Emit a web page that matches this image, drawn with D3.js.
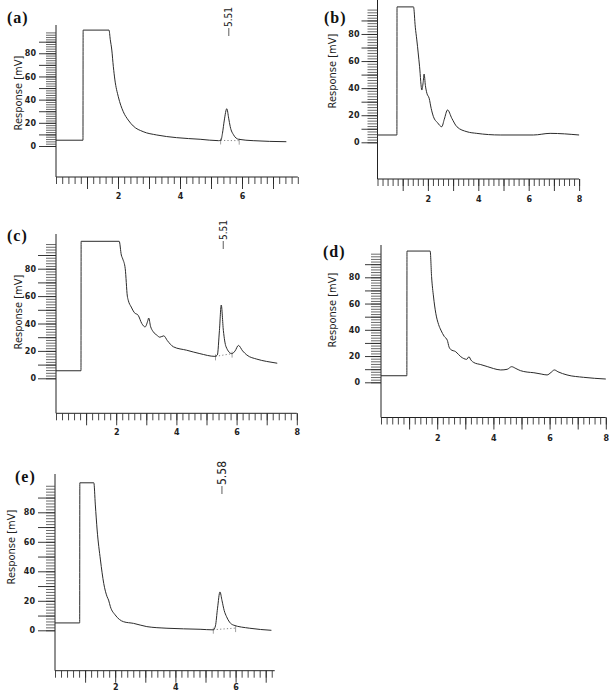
<!DOCTYPE html>
<html><head><meta charset="utf-8">
<script src="https://cdn.jsdelivr.net/npm/d3@7"></script>
<style>
body{margin:0;background:#fff;}
svg{display:block;}
.ticklab text{font-family:"DejaVu Sans",sans-serif;font-weight:bold;font-size:8px;fill:#222;}
.resp{font-family:"Liberation Sans Narrow","DejaVu Sans Condensed",sans-serif;font-size:11px;fill:#222;}
.plab{font-family:"Liberation Serif","Times New Roman",serif;font-weight:bold;font-size:16px;letter-spacing:1px;fill:#111;}
.peak{font-family:"Liberation Sans Narrow","DejaVu Sans Condensed",sans-serif;fill:#222;}
</style></head><body>
<svg id="chart" width="609" height="697"></svg>
<script>
// ---- data (time [min], response [mV]) ----
const curveA = [[0,5],[0.87,5],[0.875,100],[1.71,100],[1.75,92],[1.80,82.8],[1.85,68.4],[1.90,57],[2.01,42.5],[2.17,29.6],[2.33,22.4],[2.49,17.3],[2.81,12.4],[3.25,9.5],[3.89,7.2],[4.65,5.8],[5.24,4.6],[5.32,5.0],[5.37,11],[5.43,22.4],[5.51,32.2],[5.57,24],[5.62,16.7],[5.73,9.5],[5.89,5.8],[6.36,4.6],[7.43,3.7]];
const curveB = [[0,5.4],[0.77,5.4],[0.775,100],[1.43,100],[1.5,85],[1.56,75.6],[1.67,55.8],[1.76,38.6],[1.81,44],[1.85,50.4],[1.9,42],[1.96,36.2],[2.05,32.5],[2.13,25],[2.22,18.9],[2.38,14.5],[2.55,11.5],[2.65,17],[2.78,23.9],[2.95,17.7],[3.15,11.5],[3.55,7.8],[3.94,6.6],[4.87,5.4],[6.19,5.4],[6.85,6.6],[8.0,5.4]];
const curveC = [[0,5.5],[0.83,5.5],[0.835,100],[2.10,100],[2.17,90],[2.22,87],[2.30,80],[2.37,60],[2.40,57],[2.5,52],[2.6,48],[2.73,46],[2.85,40],[2.96,37.5],[3.05,42],[3.08,44],[3.14,38],[3.23,34],[3.35,31.5],[3.45,30],[3.58,31],[3.7,27.5],[3.9,23],[4.34,20.5],[4.78,18],[5.28,16],[5.36,17],[5.43,35],[5.49,53.5],[5.56,35],[5.65,23],[5.84,18],[5.95,20],[6.06,24],[6.2,20],[6.34,17],[6.67,14],[7.0,12.3],[7.35,11]];
const curveD = [[0,5],[0.92,5],[0.925,100],[1.75,100],[1.80,80.5],[1.87,65],[1.95,52.6],[2.05,44],[2.13,39.8],[2.25,35],[2.36,32],[2.42,27],[2.48,25],[2.66,23.3],[2.84,19.5],[3.05,17.5],[3.13,19.5],[3.2,17],[3.31,15],[3.55,13.5],[3.78,12],[4.0,10.5],[4.26,9.4],[4.49,9.9],[4.65,11.9],[4.8,10.5],[4.96,8.9],[5.2,7.8],[5.44,7.3],[5.7,6.3],[5.91,5.6],[6.05,7.5],[6.17,9.4],[6.3,8],[6.62,5.6],[7.21,3.8],[8.0,2.5]];
const curveE = [[0,5],[0.82,5],[0.825,100],[1.29,100],[1.34,85],[1.40,68],[1.51,47.7],[1.62,31.7],[1.73,22.8],[1.78,20.5],[1.84,16],[2.0,10.4],[2.28,5.8],[2.61,4.7],[3.05,2.5],[3.72,1.4],[4.82,0.7],[5.26,0.3],[5.33,3],[5.40,15],[5.48,26],[5.55,20],[5.62,13.5],[5.70,9.2],[5.8,5.5],[5.92,3.6],[6.47,1.4],[7.19,0]];

const baseA = [[5.31,4.8],[5.91,4.6]];
const baseC = [[5.30,16],[5.85,18]];
const baseE = [[5.26,0.4],[6.00,1.5]];

const yTickLabels = [0,20,40,60,80];
const xTickLabels7 = [2,4,6];
const xTickLabels8 = [2,4,6,8];
const peakTimes = [5.51,5.49,5.48];
const peakTexts = ["5.51","5.51","5.58"];
const panelNames = ["(a)","(b)","(c)","(d)","(e)"];
const yTitle = "Response [mV]";

// ---- layout ----
const panels = [
 {name:panelNames[0],data:curveA,base:baseA,peak:0,x0:56,xpu:31,xEnd:7.8,y0:146,ypu:1.159,yTop:25,xAxisY:177,xLabels:xTickLabels7,
  majLen:17,minLen:10,labGap:3,lab:[7,23],resp:[18,93],peakBottom:27,peakSize:10,xLabY:199},
 {name:panelNames[1],data:curveB,base:null,peak:-1,x0:377.5,xpu:25.2,xEnd:8,y0:142.3,ypu:1.354,yTop:0,xAxisY:179,xLabels:xTickLabels8,
  majLen:16,minLen:10,labGap:2,lab:[324,23],resp:[332,71],xLabY:202},
 {name:panelNames[2],data:curveC,base:baseC,peak:1,x0:56,xpu:30.1,xEnd:8,y0:378.3,ypu:1.37,yTop:234,xAxisY:413.3,xLabels:xTickLabels8,
  majLen:18,minLen:10,labGap:2,lab:[7,241],resp:[18,312],peakBottom:240,peakSize:10,xLabY:435},
 {name:panelNames[3],data:curveD,base:null,peak:-1,x0:381,xpu:28.1,xEnd:8,y0:382.3,ypu:1.3125,yTop:245,xAxisY:417.5,xLabels:xTickLabels8,
  majLen:16,minLen:10,labGap:5,lab:[323,257],resp:[332,310],xLabY:441},
 {name:panelNames[4],data:curveE,base:baseE,peak:2,x0:55,xpu:30.1,xEnd:7.3,y0:630.3,ypu:1.475,yTop:474,xAxisY:670.7,xLabels:xTickLabels7,
  majLen:17,minLen:9,labGap:3,lab:[15,482],resp:[11,547],peakBottom:485,peakSize:12,xLabY:690}
];

const svg = d3.select("#chart");
const ink = "#222";

panels.forEach(p => {
  const g = svg.append("g");
  const x = d3.scaleLinear().domain([0,p.xEnd]).range([p.x0, p.x0 + p.xpu*p.xEnd]);
  const y = d3.scaleLinear().domain([0,100]).range([p.y0, p.y0 - 100*p.ypu]);
  const ax = x(0);

  g.append("line").attr("x1",ax).attr("x2",ax).attr("y1",p.yTop).attr("y2",p.xAxisY).attr("stroke",ink).attr("stroke-width",1);
  g.append("line").attr("x1",ax).attr("x2",x(p.xEnd)).attr("y1",p.xAxisY).attr("y2",p.xAxisY).attr("stroke",ink).attr("stroke-width",1);

  g.append("g").attr("transform",`translate(${ax},0)`).style("color","#444")
    .call(d3.axisLeft(y).tickValues(d3.range(0,50).map(i=>i*2)).tickSize(p.minLen).tickFormat(""))
    .call(s=>{s.select(".domain").remove(); s.selectAll("line").attr("stroke-width",0.8);});
  g.append("g").attr("class","ticklab").attr("transform",`translate(${ax},0)`).style("color",ink)
    .call(d3.axisLeft(y).tickValues(d3.range(0,10).map(i=>i*10)).tickSize(p.majLen).tickPadding(p.labGap)
      .tickFormat(d => yTickLabels.includes(d) ? d : ""))
    .call(s=>{s.select(".domain").remove(); s.selectAll("line").attr("stroke-width",0.9);});

  const nMinor = Math.floor(p.xEnd/0.2 + 1e-6);
  g.append("g").attr("transform",`translate(0,${p.xAxisY})`).style("color","#333")
    .call(d3.axisBottom(x).tickValues(d3.range(0,nMinor+1).map(i=>i*0.2)).tickSize(7).tickFormat(""))
    .call(s=>{s.select(".domain").remove(); s.selectAll("line").attr("stroke-width",0.9);});
  g.append("g").attr("class","ticklab").attr("transform",`translate(0,${p.xAxisY})`).style("color",ink)
    .call(d3.axisBottom(x).tickValues(d3.range(1,Math.floor(p.xEnd)+1)).tickSize(12).tickPadding(3)
      .tickFormat(d => p.xLabels.includes(d) ? d : ""))
    .call(s=>{s.select(".domain").remove(); s.selectAll("line").attr("stroke-width",0.9);
      s.selectAll("text").attr("y", p.xLabY - p.xAxisY).attr("dy",null);});

  if (p.base) {
    g.append("path").attr("d", d3.line().x(d=>x(d[0])).y(d=>y(d[1]))(p.base))
      .attr("fill","none").attr("stroke","#777").attr("stroke-width",0.9).attr("stroke-dasharray","1.2,2.2");
    p.base.forEach(d => {
      g.append("line").attr("x1",x(d[0])).attr("x2",x(d[0])).attr("y1",y(d[1])-2).attr("y2",y(d[1])+4)
        .attr("stroke","#888").attr("stroke-width",0.8);
    });
  }

  g.append("path").datum(p.data)
    .attr("d", d3.line().x(d=>x(d[0])).y(d=>y(d[1])).curve(d3.curveMonotoneX))
    .attr("fill","none").attr("stroke","#2b2b2b").attr("stroke-width",1);

  if (p.peak >= 0) {
    const px = x(peakTimes[p.peak]) + 2;
    g.append("line").attr("x1",px).attr("x2",px).attr("y1",p.peakBottom+1).attr("y2",p.peakBottom+9)
      .attr("stroke","#333").attr("stroke-width",0.8);
    g.append("text").attr("class","peak").attr("transform",`translate(${px},${p.peakBottom}) rotate(-90)`)
      .attr("dy","0.35em").style("font-size",p.peakSize+"px").text(peakTexts[p.peak]);
  }

  g.append("text").attr("class","resp").attr("text-anchor","middle")
    .attr("transform",`translate(${p.resp[0]},${p.resp[1]}) rotate(-90)`).attr("dy","0.35em").text(yTitle);

  g.append("text").attr("class","plab").attr("x",p.lab[0]).attr("y",p.lab[1]).text(p.name);
});
</script>
</body></html>
